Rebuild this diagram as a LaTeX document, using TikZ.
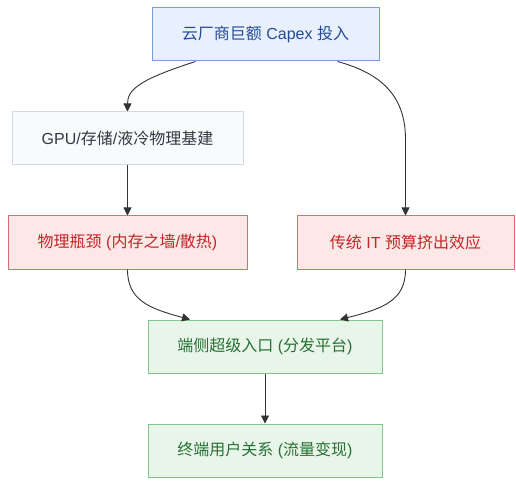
\documentclass[tikz,border=0pt]{standalone}
\usepackage{fontspec}
\setmainfont{Liberation Sans}
\newfontfamily\cjk{Noto Sans CJK SC}
\newcommand{\zh}[1]{{\cjk #1}}
\usepackage{tikz}
\usetikzlibrary{arrows.meta, calc, positioning}
\definecolor{capexfill}{RGB}{232,240,253}
\definecolor{capexline}{RGB}{118,158,222}
\definecolor{capextext}{RGB}{36,76,150}
\definecolor{infrafill}{RGB}{248,250,252}
\definecolor{infraline}{RGB}{208,217,228}
\definecolor{infratext}{RGB}{51,56,66}
\definecolor{riskfill}{RGB}{253,231,231}
\definecolor{riskline}{RGB}{222,110,110}
\definecolor{risktext}{RGB}{192,40,40}
\definecolor{gainfill}{RGB}{232,245,233}
\definecolor{gainline}{RGB}{132,196,142}
\definecolor{gaintext}{RGB}{40,112,52}
\definecolor{flowline}{RGB}{51,51,51}

\begin{document}
\begin{tikzpicture}[x=1pt, y=-1pt,
  box/.style={draw, line width=1pt, minimum height=53pt, inner xsep=0pt, font=\fontsize{16pt}{19pt}\selectfont},
  capex/.style={box, fill=capexfill, draw=capexline, text=capextext},
  infra/.style={box, fill=infrafill, draw=infraline, text=infratext},
  risk/.style={box, fill=riskfill, draw=riskline, text=risktext},
  gain/.style={box, fill=gainfill, draw=gainline, text=gaintext},
  flow/.style={draw=flowline, line width=0.9pt, -{Triangle[length=8pt, width=8pt]}}]

\useasboundingbox (0,0) rectangle (516,486);

\node (cloud)[capex, minimum width=227pt] at (265.5,34.5) {\zh{云厂商巨额} Capex \zh{投入}};
\node (infra)[infra, minimum width=231pt] at (127.5,138.5) {GPU/\zh{存储}/\zh{液冷物理基建}};
\node (wall)[risk, minimum width=239pt] at (127.5,242.5) {\zh{物理瓶颈} (\zh{内存之墙}/\zh{散热})};
\node (itcut)[risk, minimum width=217pt] at (405.5,242.5) {\zh{传统} IT \zh{预算挤出效应}};
\node (entry)[gain, minimum width=234pt] at (265,346.5) {\zh{端侧超级入口} (\zh{分发平台})};
\node (users)[gain, minimum width=234pt] at (265,450.5) {\zh{终端用户关系} (\zh{流量变现})};

% capex splits two ways
\draw[flow] ($(cloud.south)+(-70,0)$) .. controls ($(infra.north)+(12,-32)$) and ($(infra.north)+(0,-22)$) .. (infra.north);
\draw[flow] ($(cloud.south)+(72,0)$) .. controls ($(itcut.north)+(-20,-141)$) and ($(itcut.north)+(0,-116)$) .. ($(itcut.north)+(0,-76)$) -- (itcut.north);

\draw[flow] (infra) -- (wall);

% both squeezes meet at the edge
\draw[flow] (wall.south) .. controls ($(wall.south)+(0,31)$) and ($(wall.south)+(22,39)$) .. ($(entry.north)+(-75,0)$);
\draw[flow] (itcut.south) .. controls ($(itcut.south)+(0,31)$) and ($(itcut.south)+(-22,39)$) .. ($(entry.north)+(75,0)$);

\draw[flow] (entry) -- (users);
\end{tikzpicture}
\end{document}
